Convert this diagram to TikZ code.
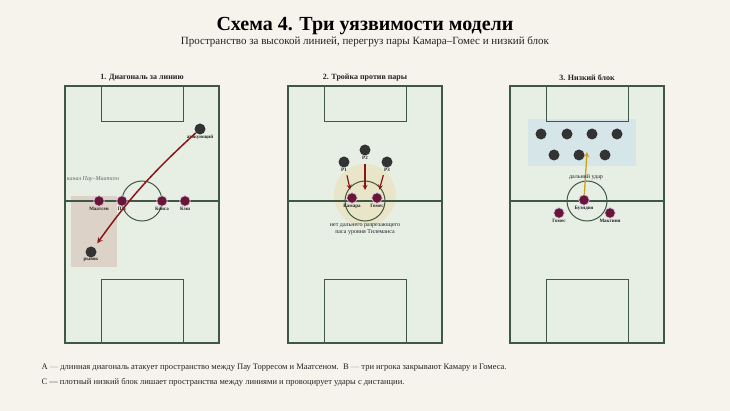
\documentclass[tikz,border=0pt]{standalone}
\usepackage{fontspec}
\setmainfont{Liberation Serif}
\usetikzlibrary{arrows, positioning, calc}

\definecolor{paper}{HTML}{F6F3EC}
\definecolor{pitchfill}{HTML}{E7EFE5}
\definecolor{pitchgreen}{HTML}{3E5843}
\definecolor{maroon}{HTML}{6A1436}
\definecolor{ring}{HTML}{D2C8E4}
\definecolor{darkdot}{HTML}{333333}
\definecolor{arrowred}{HTML}{8A1518}
\definecolor{gold}{HTML}{C9A120}
\definecolor{zoneA}{HTML}{DDCFC5}
\definecolor{zoneB}{HTML}{E9E5C8}
\definecolor{zoneC}{HTML}{D6E5E8}
\definecolor{textdark}{HTML}{222222}
\definecolor{channel}{HTML}{5C6B60}
\definecolor{dashgray}{HTML}{9A9A9A}

\begin{document}
\begin{tikzpicture}[x=1pt, y=-1pt,
  outer/.style={draw=pitchgreen, line width=1.8pt},
  pitchline/.style={draw=pitchgreen, line width=1pt},
  own/.style={circle, fill=maroon, draw=ring, line width=0.7pt, minimum size=10.5pt, inner sep=0pt},
  opp/.style={circle, fill=darkdot, minimum size=11pt, inner sep=0pt},
  plabel/.style={font=\fontsize{5}{6}\selectfont\bfseries, text=textdark, inner sep=0.5pt},
  note/.style={font=\fontsize{6}{7}\selectfont, text=textdark, align=center},
  ptitle/.style={font=\fontsize{8}{9}\selectfont\bfseries, text=textdark},
  run/.style={->, >=stealth, line width=1.5pt, arrowred},
  shot/.style={->, >=stealth, line width=1.3pt, gold}]

% Background and fixed frame
\fill[paper] (0,0) rectangle (730,411);
\useasboundingbox (0,0) rectangle (730,411);

% Title
\node[font=\fontsize{20}{22}\selectfont\bfseries, text=black] (title) at (365,26) {Схема 4. Три уязвимости модели};
\node[font=\fontsize{11}{12}\selectfont, text=textdark] (subtitle) at (365,42) {Пространство за высокой линией, перегруз пары Камара–Гомес и низкий блок};

% Pitches
\foreach \cx in {142,365,587} {
    \fill[pitchfill] (\cx-77,86) rectangle (\cx+77,343);
}

% Zones
\fill[zoneA, opacity=0.9] (71,196) rectangle (117,267);
\fill[zoneB] (365,195) circle (31);
\fill[zoneC] (528,119) rectangle (636,166);

% Pitch markings
\foreach \cx in {142,365,587} {
    \draw[outer] (\cx-77,86) rectangle (\cx+77,343);
    \draw[pitchline, line width=1.3pt] (\cx-77,201) -- (\cx+77,201);
    \draw[pitchline] (\cx,201) circle (20);
    \draw[pitchline] (\cx-41,86) rectangle (\cx+41,122);
    \draw[pitchline] (\cx-41,280) rectangle (\cx+41,343);
}

% Panel titles
\node[ptitle] (t1) at (142,78) {1. Диагональ за линию};
\node[ptitle] (t2) at (365,78) {2. Тройка против пары};
\node[ptitle] (t3) at (587,78) {3. Низкий блок};

% Panel 1: long diagonal behind the line
\node[font=\fontsize{6}{7}\selectfont\itshape, text=channel] (chan) at (93,179) {канал Пау–Маатсен};
\foreach \x/\name/\tag in {99/Маатсен/maa, 122/Пау/pau, 162/Конса/kon, 185/Кэш/cash} {
    \node[own, label={[plabel]below:\name}] (\tag) at (\x,201) {};
}
\node[opp, label={[plabel]below:атакующий}] (att) at (200,129) {};
\node[opp, label={[plabel]below:рывок}] (runner) at (91,252) {};
\draw[run, shorten >=5pt] (att) to[bend right=6] (runner);

% Panel 2: three against the pair
\node[own, label={[plabel]below:Камара}] (kam) at (352,198) {};
\node[own, label={[plabel]below:Гомес}] (gom) at (377,198) {};
\node[opp, label={[plabel]below:Р1}] (p1) at (344,162) {};
\node[opp, label={[plabel]below:Р2}] (p2) at (365,150) {};
\node[opp, label={[plabel]below:Р3}] (p3) at (387,162) {};
\coordinate (gap) at (365,190);
\draw[run, line width=1.2pt, shorten <=8pt, shorten >=3pt] (p1) -- (kam);
\draw[run, line width=1.2pt, shorten <=8pt] (p2) -- (gap);
\draw[run, line width=1.2pt, shorten <=8pt, shorten >=3pt] (p3) -- (gom);
\node[note] (nolong) at (365,229) {нет дальнего разрезающего\\паса уровня Тилеманса};

% Panel 3: low block
\foreach \x/\tag in {541/b1, 567/b2, 592/b3, 617/b4} {
    \node[opp] (\tag) at (\x,134) {};
}
\foreach \x/\tag in {554/b5, 579/b6, 605/b7} {
    \node[opp] (\tag) at (\x,155) {};
}
\node[own, label={[plabel]below:Буэндия}] (bue) at (584,200) {};
\node[own, label={[plabel]below:Гомес}] (gom3) at (559,213) {};
\node[own, label={[plabel]below:Макгинн}] (mcg) at (610,213) {};
\coordinate (target) at (587,152);
\draw[shot] (bue) -- (target);
\node[note] (longshot) at (586,177) {дальний удар};

% Notes
\node[anchor=west, font=\fontsize{8.5}{10}\selectfont, text=textdark] (noteAB) at (38,368)
    {A \textcolor{dashgray}{—} длинная диагональ атакует пространство между Пау Торресом и Маатсеном.\ \ B \textcolor{dashgray}{—} три игрока закрывают Камару и Гомеса.};
\node[anchor=west, font=\fontsize{8.5}{10}\selectfont, text=textdark] (noteC) at (38,382)
    {C — плотный низкий блок лишает пространства между линиями и провоцирует удары с дистанции.};
\end{tikzpicture}
\end{document}
